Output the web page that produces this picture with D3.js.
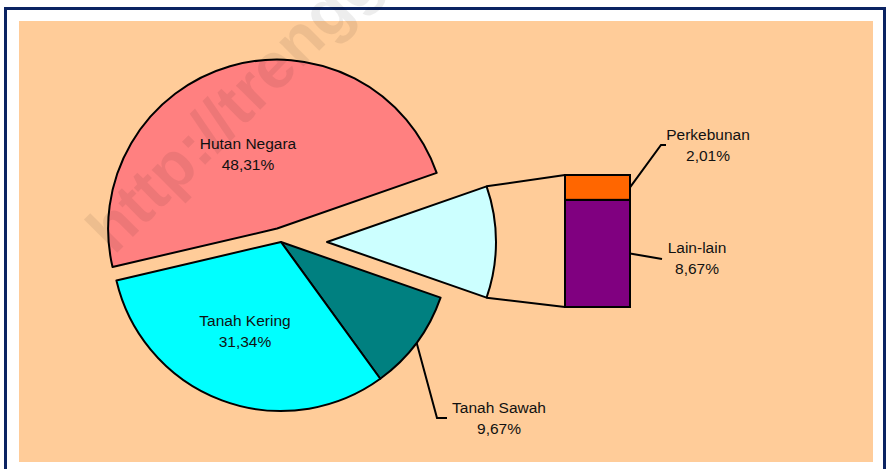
<!DOCTYPE html>
<html>
<head>
<meta charset="utf-8">
<script src="https://cdn.jsdelivr.net/npm/d3@7"></script>
<style>
  html, body { margin: 0; padding: 0; background: #fff; }
  svg { display: block; }
  text { font-family: "Liberation Sans", Arial, sans-serif; }
</style>
</head>
<body>
<div id="app"></div>
<script>
// main pie (the "other" slice is split out into the bar)
const pieNames = ['Hutan Negara', 'Lain-lain + Perkebunan', 'Tanah Sawah', 'Tanah Kering']
const pieValues = [48.31, 10.68, 9.67, 31.34]
const pieColors = ['#FF8080', '#CCFFFF', '#008080', '#00FFFF']

// bar on the right, bottom to top
const barNames = ['Lain-lain', 'Perkebunan']
const barValues = [8.67, 2.01]
const barColors = ['#800080', '#FF6600']

const width = 887
const height = 469

const fmt = v => d3.format('.2f')(v).replace('.', ',') + '%'

const svg = d3.select('#app')
    .append('svg')
    .attr('width', width)
    .attr('height', height)

// frame + plot area
svg.append('rect')
    .attr('x', 5.5).attr('y', 8.5)
    .attr('width', 879).attr('height', 480)
    .style('fill', '#fff')
    .style('stroke', '#0B2362')
    .style('stroke-width', 3)

svg.append('rect')
    .attr('x', 19).attr('y', 21)
    .attr('width', 854).attr('height', 441)
    .style('fill', '#FFCC99')

const cx = 281, cy = 242, r = 169
const total = d3.sum(pieValues)
const otherIdx = 1

// rotate so the "other" slice points right (3 o'clock)
const start = Math.PI / 2 - Math.PI * pieValues[otherIdx] / total - 2 * Math.PI * pieValues[0] / total

const pie = d3.pie().sort(null).value(d => d)
    .startAngle(start).endAngle(start + 2 * Math.PI)
const arcs = pie(pieValues)

const arc = d3.arc().innerRadius(0).outerRadius(r)

// explode offsets
const explode = [14, 46, 0, 0]
const offset = (d, i) => {
    const a = (d.startAngle + d.endAngle) / 2
    const e = explode[i]
    return [Math.sin(a) * e, -Math.cos(a) * e]
}

const slices = svg.append('g')
    .attr('transform', 'translate(' + cx + ',' + cy + ')')

slices.selectAll('path')
    .data(arcs)
    .enter()
    .append('path')
    .attr('d', arc)
    .attr('transform', (d, i) => 'translate(' + offset(d, i) + ')')
    .style('fill', (d, i) => pieColors[i])
    .style('stroke', '#000')
    .style('stroke-width', 2)
    .style('stroke-linejoin', 'round')

// bar
const barX = 565, barW = 65
const yBar = d3.scaleLinear()
    .domain([0, d3.sum(barValues)])
    .range([307, 175])

const stacked = []
let acc = 0
barValues.forEach((v, i) => {
    stacked.push({ name: barNames[i], value: v, y0: acc, y1: acc + v, color: barColors[i] })
    acc += v
})

// connector lines from the other slice to the bar
const od = arcs[otherIdx]
const oOff = offset(od, otherIdx)
const arcPt = a => [cx + oOff[0] + Math.sin(a) * r, cy + oOff[1] - Math.cos(a) * r]
const pTop = arcPt(od.startAngle)
const pBot = arcPt(od.endAngle)

svg.append('line')
    .attr('x1', pTop[0]).attr('y1', pTop[1])
    .attr('x2', barX).attr('y2', yBar(d3.sum(barValues)))
    .style('stroke', '#000').style('stroke-width', 2)
svg.append('line')
    .attr('x1', pBot[0]).attr('y1', pBot[1])
    .attr('x2', barX).attr('y2', yBar(0))
    .style('stroke', '#000').style('stroke-width', 2)

svg.append('g')
    .selectAll('rect')
    .data(stacked)
    .enter()
    .append('rect')
    .attr('x', barX)
    .attr('y', d => yBar(d.y1))
    .attr('width', barW)
    .attr('height', d => yBar(d.y0) - yBar(d.y1))
    .style('fill', d => d.color)
    .style('stroke', '#000')
    .style('stroke-width', 2)

// labels
const label = (x, y, name, value) => {
    const t = svg.append('text')
        .attr('text-anchor', 'middle')
        .style('font-size', '15.5px')
        .style('fill', '#111')
    t.append('tspan').attr('x', x).attr('y', y).text(name)
    t.append('tspan').attr('x', x).attr('y', y + 20.5).text(fmt(value))
}

const leader = pts => svg.append('path')
    .attr('d', d3.line()(pts))
    .style('fill', 'none')
    .style('stroke', '#000')
    .style('stroke-width', 2)

label(248, 149, pieNames[0], pieValues[0])
label(245, 326, pieNames[3], pieValues[3])

// Tanah Sawah leader from the slice edge
const sd = arcs[2]
const sMid = (sd.startAngle + sd.endAngle) / 2
const sPt = [cx + Math.sin(sMid) * r, cy - Math.cos(sMid) * r]
leader([sPt, [437, 418], [447, 418]])
label(499, 413, pieNames[2], pieValues[2])

// bar labels
const segMid = d => yBar((d.y0 + d.y1) / 2)
leader([[barX + barW, segMid(stacked[1])], [661, 145], [666, 145]])
label(708, 140, stacked[1].name, stacked[1].value)

leader([[barX + barW, segMid(stacked[0])], [662, 259]])
label(697, 253, stacked[0].name, stacked[0].value)

// watermark
svg.append('text')
    .attr('transform', 'translate(114,256) rotate(-45)')
    .style('font-size', '65px')
    .style('font-weight', 'bold')
    .style('fill', '#000')
    .style('fill-opacity', 0.07)
    .text('http://trenggalekkab.go.id')
</script>
</body>
</html>
